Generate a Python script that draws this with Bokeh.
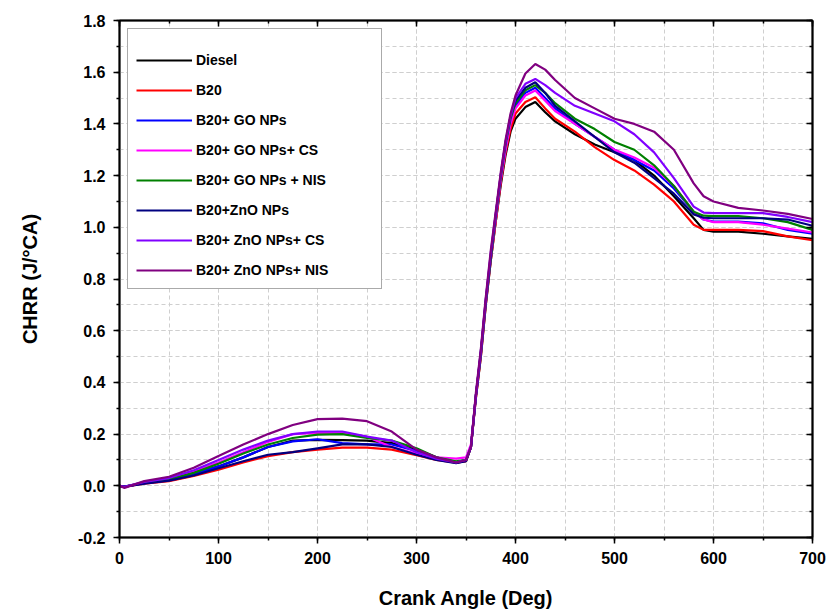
from bokeh.plotting import figure
from bokeh.models import (LinearAxis, SingleIntervalTicker, NumeralTickFormatter,
                          CustomJSTickFormatter, Legend, LegendItem, ColumnDataSource)
from bokeh.embed import file_html
from bokeh.resources import INLINE

crank_angle = [0, 5, 25, 50, 75, 100, 125, 150, 175, 200, 225, 250, 275, 300, 320, 340,
               350, 355, 360, 365, 370, 375, 380, 385, 390, 395, 400, 410, 420, 430,
               440, 460, 480, 500, 520, 540, 560, 580, 590, 600, 625, 650, 675, 700]

diesel = [0, -0.003, 0.01, 0.022, 0.045, 0.075, 0.11, 0.15, 0.175, 0.178,
          0.177, 0.175, 0.165, 0.14, 0.11, 0.09, 0.095, 0.15, 0.34, 0.5,
          0.7, 0.87, 1.02, 1.16, 1.28, 1.37, 1.42, 1.465, 1.485, 1.445,
          1.41, 1.36, 1.32, 1.29, 1.26, 1.2, 1.12, 1.035, 0.99, 0.983,
          0.983, 0.975, 0.965, 0.955]
b20 = [0, -0.003, 0.008, 0.018, 0.038, 0.062, 0.09, 0.115, 0.13, 0.14,
       0.148, 0.148, 0.14, 0.118, 0.1, 0.09, 0.095, 0.15, 0.34, 0.5,
       0.7, 0.87, 1.02, 1.17, 1.29, 1.38, 1.44, 1.485, 1.503, 1.46,
       1.42, 1.37, 1.31, 1.26, 1.22, 1.165, 1.1, 1.01, 0.99, 0.99,
       0.99, 0.985, 0.965, 0.95]
b20_go = [0, -0.003, 0.01, 0.022, 0.045, 0.075, 0.11, 0.15, 0.172, 0.18,
          0.165, 0.16, 0.16, 0.135, 0.11, 0.092, 0.1, 0.15, 0.35, 0.51,
          0.71, 0.88, 1.04, 1.19, 1.31, 1.41, 1.47, 1.52, 1.54, 1.5,
          1.46, 1.4, 1.35, 1.3, 1.26, 1.22, 1.15, 1.06, 1.03, 1.022,
          1.022, 1.015, 0.99, 0.975]
b20_go_cs = [0, -0.004, 0.013, 0.028, 0.055, 0.09, 0.13, 0.17, 0.2, 0.205,
             0.205, 0.19, 0.15, 0.125, 0.11, 0.105, 0.11, 0.16, 0.35, 0.51,
             0.71, 0.88, 1.03, 1.18, 1.3, 1.4, 1.46, 1.51, 1.529, 1.49,
             1.45, 1.4, 1.35, 1.3, 1.27, 1.23, 1.16, 1.06, 1.03, 1.02,
             1.02, 1.01, 0.995, 0.98]
b20_go_nis = [0, -0.003, 0.012, 0.025, 0.05, 0.085, 0.125, 0.16, 0.185, 0.198,
              0.2, 0.185, 0.175, 0.145, 0.11, 0.095, 0.1, 0.15, 0.35, 0.51,
              0.71, 0.88, 1.04, 1.19, 1.32, 1.42, 1.48, 1.53, 1.55, 1.52,
              1.48, 1.42, 1.38, 1.33, 1.3, 1.24, 1.16, 1.06, 1.045, 1.043,
              1.043, 1.035, 1.02, 0.99]
b20_zno = [0, -0.003, 0.008, 0.02, 0.04, 0.068, 0.095, 0.12, 0.13, 0.145,
           0.16, 0.16, 0.15, 0.12, 0.1, 0.088, 0.095, 0.15, 0.35, 0.52,
           0.72, 0.89, 1.05, 1.2, 1.33, 1.43, 1.49, 1.54, 1.561, 1.52,
           1.47, 1.41, 1.35, 1.29, 1.25, 1.19, 1.13, 1.05, 1.037, 1.035,
           1.035, 1.035, 1.03, 1.006]
b20_zno_cs = [0, -0.004, 0.015, 0.03, 0.06, 0.1, 0.14, 0.175, 0.2, 0.21,
              0.21, 0.19, 0.175, 0.13, 0.105, 0.09, 0.1, 0.15, 0.35, 0.52,
              0.72, 0.9, 1.05, 1.2, 1.33, 1.43, 1.5, 1.555, 1.574, 1.55,
              1.52, 1.47, 1.44, 1.41, 1.36, 1.29, 1.19, 1.08, 1.057, 1.055,
              1.055, 1.055, 1.04, 1.02]
b20_zno_nis = [0, -0.008, 0.018, 0.035, 0.07, 0.115, 0.16, 0.2, 0.235, 0.258,
               0.26, 0.25, 0.21, 0.14, 0.11, 0.09, 0.1, 0.15, 0.36, 0.53,
               0.73, 0.91, 1.06, 1.21, 1.34, 1.44, 1.51, 1.595, 1.632, 1.61,
               1.57, 1.5, 1.46, 1.42, 1.4, 1.37, 1.3, 1.17, 1.12, 1.1,
               1.075, 1.065, 1.052, 1.032]

series_names = ["Diesel", "B20", "B20+ GO NPs", "B20+ GO NPs+ CS", "B20+ GO NPs + NIS",
                "B20+ZnO NPs", "B20+ ZnO NPs+ CS", "B20+ ZnO NPs+ NIS"]
series_values = [diesel, b20, b20_go, b20_go_cs, b20_go_nis, b20_zno, b20_zno_cs, b20_zno_nis]
series_colors = ["#000000", "#FF0000", "#0000FF", "#FF00FF", "#008000", "#000080",
                 "#8000FF", "#800080"]

FONT = "Liberation Sans"

p = figure(width=826, height=611, x_range=(0, 700), y_range=(-0.2, 1.8),
           output_backend="svg", toolbar_location=None,
           min_border_left=119, min_border_right=14, min_border_top=20,
           min_border_bottom=74, x_axis_location=None, y_axis_location=None)

p.outline_line_color = "black"
p.outline_line_width = 1.5
p.background_fill_color = "white"
p.border_fill_color = "white"

xt = SingleIntervalTicker(interval=100, num_minor_ticks=2)
yt = SingleIntervalTicker(interval=0.2, num_minor_ticks=2)


def make_axis(ticker, labels, inward):
    ax = LinearAxis(ticker=ticker)
    ax.axis_line_color = "black"
    ax.axis_line_width = 2
    ax.major_tick_line_color = "black"
    ax.minor_tick_line_color = "black"
    ax.major_tick_line_width = 1.5
    ax.minor_tick_line_width = 1.5
    if inward:
        ax.major_tick_in = 6
        ax.major_tick_out = 0
        ax.minor_tick_in = 3
        ax.minor_tick_out = 0
    else:
        ax.major_tick_in = 0
        ax.major_tick_out = 6
        ax.minor_tick_in = 0
        ax.minor_tick_out = 3
    if not labels:
        ax.formatter = CustomJSTickFormatter(code="return '';")
        ax.major_label_standoff = 0
    else:
        ax.major_label_text_font = FONT
        ax.major_label_text_font_style = "bold"
        ax.major_label_text_font_size = "16px"
        ax.major_label_text_color = "black"
        ax.axis_label_text_font = FONT
        ax.axis_label_text_font_style = "bold"
        ax.axis_label_text_font_size = "20px"
        ax.axis_label_text_color = "black"
    return ax


xaxis = make_axis(xt, True, False)
xaxis.axis_label = "Crank Angle (Deg)"
xaxis.major_label_standoff = 8
xaxis.axis_label_standoff = 20
p.add_layout(xaxis, "below")

yaxis = make_axis(yt, True, False)
yaxis.axis_label = "CHRR (J/°CA)"
yaxis.formatter = NumeralTickFormatter(format="0.0")
yaxis.major_label_standoff = 8
yaxis.axis_label_standoff = 34
p.add_layout(yaxis, "left")

p.add_layout(make_axis(SingleIntervalTicker(interval=100, num_minor_ticks=2), False, True), "above")
p.add_layout(make_axis(SingleIntervalTicker(interval=0.2, num_minor_ticks=2), False, True), "right")

p.xgrid.ticker = xt
p.ygrid.ticker = yt
for g in (p.xgrid[0], p.ygrid[0]):
    g.grid_line_color = "#cfcfcf"
    g.grid_line_dash = "4 3"
    g.grid_line_width = 1
    g.minor_grid_line_color = "#cfcfcf"
    g.minor_grid_line_dash = "4 3"
    g.minor_grid_line_width = 1

items = []
for name, vals, col in zip(series_names, series_values, series_colors):
    src = ColumnDataSource(dict(x=crank_angle, y=vals))
    r = p.line("x", "y", source=src, line_color=col, line_width=2.2)
    items.append(LegendItem(label=name, renderers=[r]))

legend = Legend(items=items, location="top_left", margin=8, padding=8, spacing=10,
                label_height=20, glyph_height=20, glyph_width=56, label_standoff=4,
                label_width=177, label_text_font=FONT, label_text_font_style="bold",
                label_text_font_size="14px", label_text_color="black",
                border_line_color="#555555", border_line_width=1,
                background_fill_color="white", background_fill_alpha=1,
                title=" ", title_text_font_size="10px", title_standoff=2)
p.add_layout(legend)

open("out.html", "w").write(file_html(p, INLINE))
